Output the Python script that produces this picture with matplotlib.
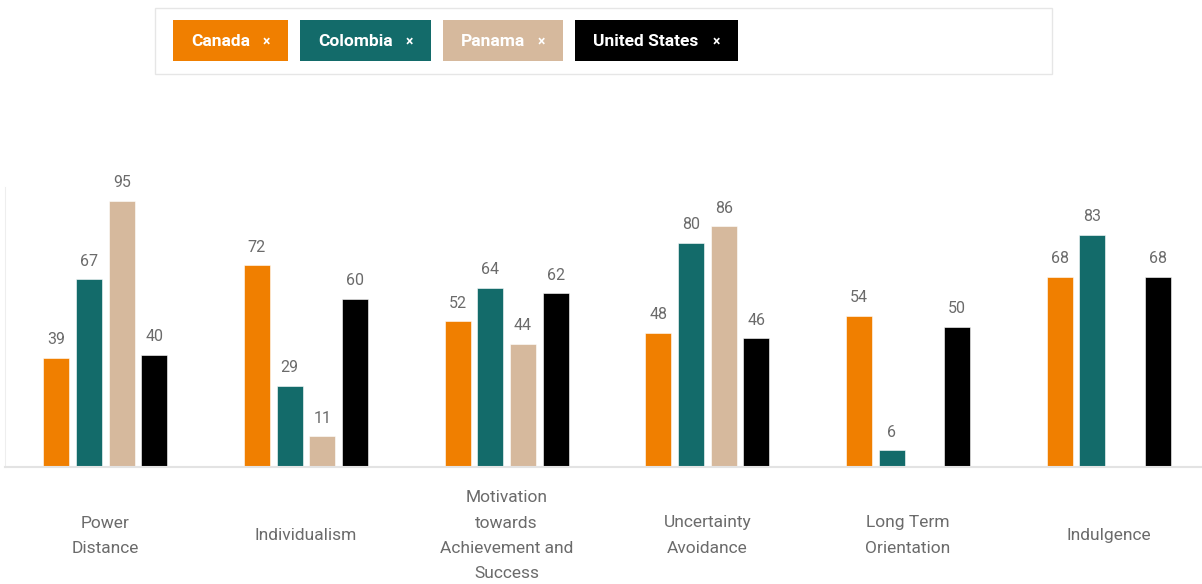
import matplotlib.pyplot as plt
from matplotlib.patches import Rectangle
import numpy as np

plt.rcParams['font.family'] = ['Roboto', 'DejaVu Sans']

# Hofstede dimension scores
categories = ['Power\nDistance', 'Individualism',
              'Motivation\ntowards\nAchievement and\nSuccess',
              'Uncertainty\nAvoidance', 'Long Term\nOrientation', 'Indulgence']
countries = ['Canada', 'Colombia', 'Panama', 'United States']
canada = [39, 72, 52, 48, 54, 68]
colombia = [67, 29, 64, 80, 6, 83]
panama = [95, 11, 44, 86, None, None]
united_states = [40, 60, 62, 46, 50, 68]

series = [canada, colombia, panama, united_states]
colors = ['#f07f00', '#136b6a', '#d6b99d', '#000000']
text_gray = '#6b6b6b'

fig = plt.figure(figsize=(12.02, 5.84), dpi=100)

# Main bar chart
ax = fig.add_axes([5 / 1202, (584 - 467) / 584, 1204 / 1202, 280 / 584])
x = np.arange(len(categories))
width = 0.13
step = 0.163
for i, (vals, col) in enumerate(zip(series, colors)):
    offset = (i - 1.5) * step
    for xi, v in zip(x, vals):
        if v is None:
            continue
        ax.bar(xi + offset, v, width=width, color=col, edgecolor='white', linewidth=0.4)
        ax.text(xi + offset, v + 3.8, str(v), ha='center', va='bottom',
                fontsize=11.5, color=text_gray)

ax.set_xlim(-0.5, len(categories) - 0.5)
ax.set_ylim(0, 100)
ax.set_xticks([])
ax.set_yticks([])
for s in ['top', 'right']:
    ax.spines[s].set_visible(False)
ax.spines['left'].set_color('#eeeeee')
ax.spines['bottom'].set_color('#e3e3e3')
ax.spines['bottom'].set_linewidth(1.5)

for xi, cat in zip(x, categories):
    ax.text(xi, -24.5, cat, ha='center', va='center', fontsize=12.5,
            color=text_gray, linespacing=1.85)

# Legend chips at the top, drawn in pixel coordinates
lg = fig.add_axes([0, 0, 1, 1], zorder=-1)
lg.set_xlim(0, 1202)
lg.set_ylim(584, 0)
lg.axis('off')
lg.add_patch(Rectangle((155, 8), 897, 66, facecolor='white',
                       edgecolor='#e6e6e6', linewidth=1))
chip_x = [173, 300, 443, 575]
chip_w = [115, 131, 120, 163]
for cx, cw, name, col in zip(chip_x, chip_w, countries, colors):
    lg.add_patch(Rectangle((cx, 20), cw, 41, facecolor=col, edgecolor='none'))
    lg.text(cx + 18, 41.5, name, ha='left', va='center', fontsize=12.5,
            fontweight='bold', color='white')
    lg.text(cx + cw - 22, 42, '×', ha='center', va='center', fontsize=10,
            fontweight='bold', color='white')

fig.savefig('out.png', dpi=100)
